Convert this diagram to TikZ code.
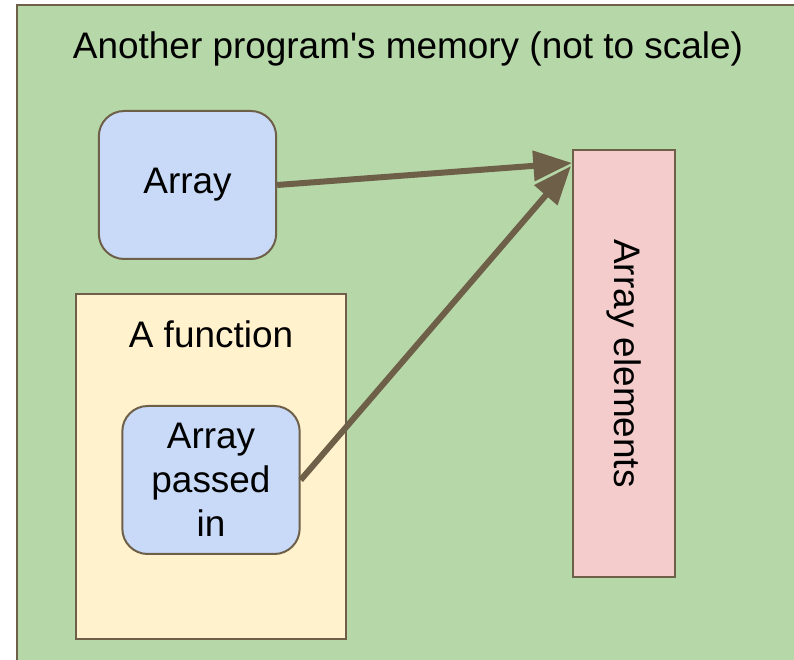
\documentclass[tikz,border=0pt]{standalone}
\usepackage{fontspec}
\setmainfont{Liberation Sans}
\usepackage{tikz}
\usetikzlibrary{arrows.meta,calc,positioning}
\definecolor{memgreen}{HTML}{B6D7A8}
\definecolor{ptrblue}{HTML}{C9DAF8}
\definecolor{funcyellow}{HTML}{FFF2CC}
\definecolor{elempink}{HTML}{F4CCCC}
\definecolor{edgebrown}{HTML}{6D5F48}

\begin{document}
\begin{tikzpicture}[x=0.75pt,y=0.75pt,>={Triangle[length=29pt 0 0,width=22pt 0 0]},
  font=\fontsize{27.7}{33}\selectfont,
  box/.style={draw=edgebrown,line width=1.5pt,inner sep=0pt,align=center},
  ptrbox/.style={box,fill=ptrblue,rounded corners=19pt,minimum width=133pt,minimum height=111pt},
  ptr/.style={->,line width=4.5pt,draw=edgebrown}]
  \useasboundingbox (0,0) rectangle (794,660);
  \clip (0,0) rectangle (794,660);
  \draw[fill=memgreen,draw=edgebrown,line width=1.5pt] (17,655) rectangle (820,-20);
  \node[anchor=base] (title) at (408,601) {Another program\textquotesingle s memory (not to scale)};
  \node[ptrbox] (array) at (187.5,475) {Array};
  \node[box,fill=funcyellow,minimum width=202.5pt,minimum height=258.75pt] (func) at (211,193.5) {};
  \node[anchor=base] (funclabel) at (211,312) {A function};
  \node[ptrbox] (passed) at (211,180) {Array\\passed\\in};
  \node[box,fill=elempink,minimum width=76.5pt,minimum height=320.25pt] (elems) at (624,296.5) {};
  \node[rotate=-90] (elemlabel) at (elems.center) {Array elements};
  \coordinate (target) at ($(elems.north west)+(0,-14)$);
  \draw[ptr] (array.east) -- (target);
  \draw[ptr] (passed.east) -- ($(target)+(-1,-3)$);
\end{tikzpicture}
\end{document}
